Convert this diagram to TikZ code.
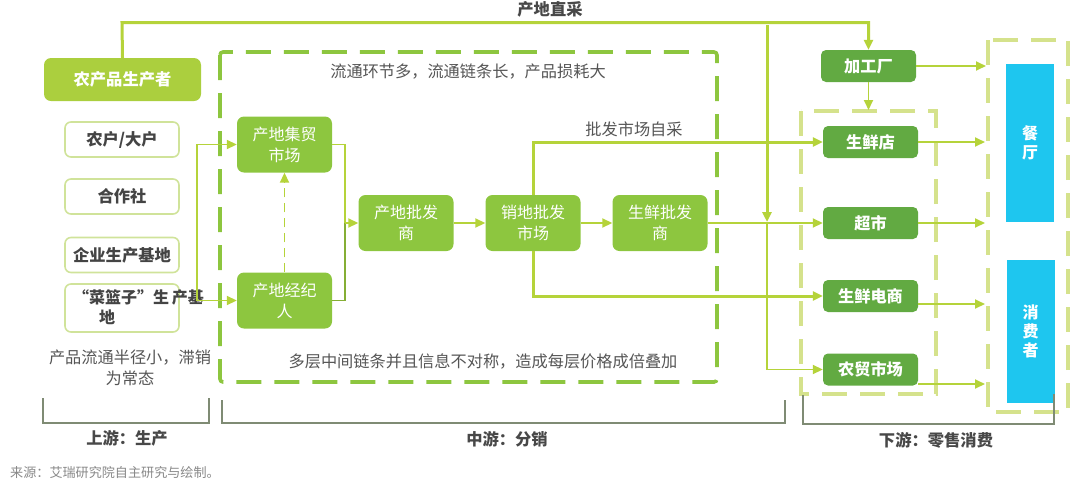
\documentclass[tikz,border=0pt]{standalone}
\usepackage{fontspec}
\newfontfamily\cjk{Noto Sans CJK SC}
\usetikzlibrary{arrows.meta}
\definecolor{lineY}{HTML}{B5D33A}
\definecolor{midG}{HTML}{8DC63F}
\definecolor{prodG}{HTML}{ABCF3E}
\definecolor{darkG}{HTML}{62AA42}
\definecolor{lightD}{HTML}{D5E28C}
\definecolor{boxB}{HTML}{D0E39A}
\definecolor{blueC}{HTML}{1EC6EF}
\definecolor{txtG}{HTML}{555555}
\definecolor{brk}{HTML}{7F8B74}
\begin{document}
\begin{tikzpicture}[x=1pt,y=-1pt,
  tri/.style={-{Triangle[length=10pt,width=9pt]}},
  thickY/.style={draw=lineY,line width=3pt},
  thinY/.style={draw=lineY,line width=1.8pt},
  gnode/.style={rounded corners=7pt,fill=midG,text=white,align=center,inner sep=0pt,
     font=\cjk\fontsize{16}{21}\selectfont,minimum width=95,minimum height=56},
  rnode/.style={rounded corners=5pt,fill=darkG,text=white,align=center,inner sep=0pt,
     font=\cjk\bfseries\fontsize{16.2}{19}\selectfont,minimum width=95,minimum height=32},
  wbox/.style={rounded corners=6pt,draw=boxB,line width=1.6pt,fill=white,text=txtG!80!black,
     inner sep=0pt,font=\cjk\bfseries\fontsize{16.3}{19}\selectfont,minimum width=114,minimum height=35},
  bnode/.style={fill=blueC,text=white,align=center,inner sep=0pt,
     font=\cjk\bfseries\fontsize{16}{19}\selectfont,minimum width=48},
  note/.style={text=txtG,font=\cjk\fontsize{16.2}{21}\selectfont,align=center,inner sep=0pt},
  head/.style={text=txtG!85!black,font=\cjk\bfseries\fontsize{16.3}{18}\selectfont,inner sep=0pt},
  brack/.style={draw=brk,line width=1.1pt},
  middash/.style={draw=midG,line width=3.6pt,dash pattern=on 25pt off 13pt,rounded corners=3pt},
  rdash/.style={draw=lightD,line width=3.6pt,dash pattern=on 25pt off 13pt}
]
\useasboundingbox (0,0) rectangle (1080,483);

% dashed frames
\draw[middash] (220,52) rectangle (717,382);
\draw[rdash] (801,111) rectangle (936,394);
\draw[rdash] (988,40) rectangle (1068,412);

% upstream
\node[rounded corners=7pt,fill=prodG,text=white,inner sep=0pt,font=\cjk\bfseries\fontsize{16.3}{19}\selectfont,
  minimum width=157,minimum height=43] (prod) at (122.5,79.5) {农产品生产者};
\node[wbox] (nh) at (122,139.5) {农户/大户};
\node[wbox] (hz) at (122,196.5) {合作社};
\node[wbox] (qy) at (122,255) {企业生产基地};
\node[wbox,minimum height=48] (cl) at (122,308) {};
\node[text=txtG!80!black,font=\cjk\bfseries\fontsize{16}{20}\selectfont,align=left,inner sep=0pt,anchor=west]
  (clt) at (73,307) {“菜篮子”生\,产基\\\hspace*{26pt}地};
\node[note] (up1) at (130,368) {产品流通半径小，滞销\\为常态};

% midstream
\node[note] (n1) at (468,72) {流通环节多，流通链条长，产品损耗大};
\node[note] (n2) at (483,361) {多层中间链条并且信息不对称，造成每层价格成倍叠加};
\node[gnode] (jm) at (284.5,144.5) {产地集贸\\市场};
\node[gnode] (jj) at (284.5,300.5) {产地经纪\\人};
\node[gnode] (cp) at (406,223) {产地批发\\商};
\node[gnode] (xp) at (533,223) {销地批发\\市场};
\node[gnode] (sp) at (660,223) {生鲜批发\\商};
\node[note] (zc) at (634,129) {批发市场自采};

% downstream
\node[rnode] (jg) at (868.5,66) {加工厂};
\node[rnode] (sd) at (870.5,142) {生鲜店};
\node[rnode] (cs) at (870.5,223) {超市};
\node[rnode] (ds) at (870.5,296) {生鲜电商};
\node[rnode] (nm) at (870.5,369.5) {农贸市场};
\node[bnode,minimum height=158] (ct) at (1030,143) {餐\\厅};
\node[bnode,minimum height=143] (xf) at (1030.5,331.5) {消\\费\\者};

% titles
\node[head] (tt) at (550,9) {产地直采};
\node[head] (h1) at (127,438) {上游：生产};
\node[head] (h2) at (507,439) {中游：分销};
\node[head] (h3) at (936,440) {下游：零售消费};
\node[text=txtG!70,font=\cjk\fontsize{13.1}{15}\selectfont,anchor=west,inner sep=0pt] (src) at (10,472) {来源：艾瑞研究院自主研究与绘制。};

% brackets
\draw[brack] (43,398) |- (209,423) -- (209,398);
\draw[brack] (222,400) |- (785,423) -- (785,400);
\draw[brack] (803,395) |- (1054,424) -- (1054,394);

% connectors
\coordinate (ltop) at (122,22.5);
\draw[thickY,tri] (prod.north) -- (ltop) -| (jg.north);
\coordinate (vtop) at (767,25);
\coordinate (vmid) at (767,222);
\draw[thickY,tri] (vtop) -- (vmid);
\draw[thinY,tri] (vmid) |- (nm.west);

\coordinate (lv1) at (197,144.5);
\coordinate (lv2) at (197,300.5);
\draw[thinY,tri] (lv2) |- (jm.west);
\draw[thinY,tri] (lv1) |- (jj.west);
\draw[thinY,dashed,dash pattern=on 9pt off 6pt,tri] (jj.north) -- (jm.south);
\coordinate (mj) at (345,223);
\draw[thinY] (jm.east) -| (mj);
\draw[thinY,draw=midG!80!black!70!lineY] (jj.east) -| (mj);
\draw[thinY,tri] (mj) -- (cp.west);
\draw[thinY,tri] (cp) -- (xp);
\draw[thinY,tri] (xp) -- (sp);
\draw[thinY,tri] (sp) -- (cs);
\draw[thickY,tri] (xp.north) |- (sd.west);
\draw[thickY,tri] (xp.south) |- (ds.west);

\coordinate (o1) at (986,66);
\coordinate (o2) at (985,142);
\coordinate (o3) at (985,223);
\coordinate (o4) at (985,304);
\coordinate (o5) at (985,384);
\coordinate (jgb) at (868.5,110);
\draw[thinY,tri] (jg.east) -- (o1);
\draw[thinY,tri] (jg.south) -- (jgb);
\draw[thinY,tri] (sd.east) -- (o2);
\draw[thinY,tri] (cs.east) -- (o3);
\draw[thinY,tri] (ds.east |- o4) -- (o4);
\draw[thinY,tri] (nm.east |- o5) -- (o5);
\end{tikzpicture}
\end{document}
